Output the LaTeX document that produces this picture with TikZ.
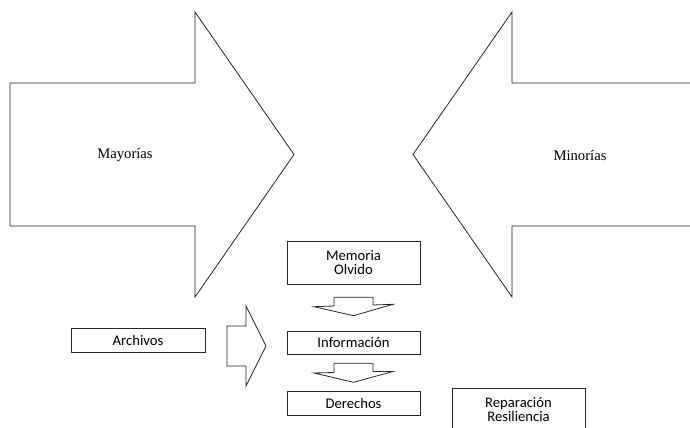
\documentclass[tikz,border=0pt]{standalone}
\usepackage{fontspec}
\setmainfont{Liberation Serif}
\newfontfamily\calib{Carlito}
\begin{document}
\begin{tikzpicture}[x=0.75pt,y=-0.75pt,line width=0.6pt,line join=miter,
  blockarrow/.style={draw=black!85},
  box/.style={draw=black!85,rectangle,font=\calib\fontsize{11}{10.75}\selectfont,align=center,minimum width=99.75pt,inner sep=0pt},
  lab/.style={font=\fontsize{11}{13}\selectfont}]
\clip (0,0) rectangle (690,428);
% big arrows
\draw[blockarrow] (10,83) -- (195,83) -- (195,12) -- (294,154.5) -- (195,297) -- (195,226) -- (10,226) -- cycle;
\draw[blockarrow] (700,83) -- (512,83) -- (512,12) -- (413,154.5) -- (512,297) -- (512,226) -- (700,226) -- cycle;
\node[lab] (may) at (125,155) {Mayorías};
\node[lab] (min) at (580,155) {Minorías};
% boxes
\node[box,minimum height=32.25pt] (mem) at (353.5,262.5) {Memoria\\Olvido};
\node[box,minimum height=17.25pt] (inf) at (353.5,342.5) {Información};
\node[box,minimum height=18pt] (der) at (353.5,403) {Derechos};
\node[box,minimum width=100.5pt,minimum height=18pt] (arc) at (138,340) {Archivos};
\node[box,minimum height=32.25pt] (rep) at (518.5,409.5) {Reparación\\Resiliencia};
% small block arrows
\draw[blockarrow] (227,326) -- (246,326) -- (246,306) -- (266,346) -- (246,386) -- (246,366) -- (227,366) -- cycle;
\draw[blockarrow] (334,297.3) -- (373,297.3) -- (373,305) -- (393,304.3) -- (353.5,315.7) -- (314,306.7) -- (334,306) -- cycle;
\draw[blockarrow] (334,363.3) -- (373,363.3) -- (373,371.5) -- (393,371.5) -- (353.5,382.3) -- (314,373) -- (334,372.5) -- cycle;
\end{tikzpicture}
\end{document}
